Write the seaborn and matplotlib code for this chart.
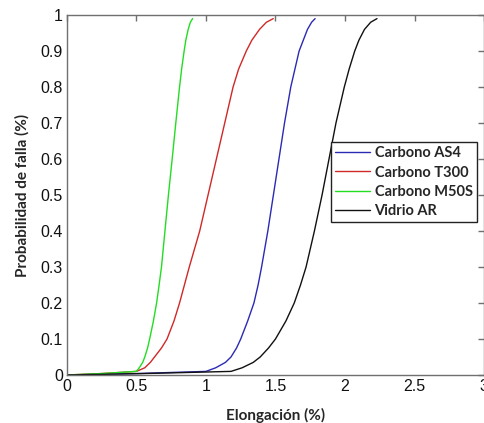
import matplotlib
matplotlib.use("Agg")
import matplotlib.pyplot as plt
import seaborn as sns
import pandas as pd

# Series names
series = ["Carbono AS4", "Carbono T300", "Carbono M50S", "Vidrio AR"]

# Failure probability levels (shared) and elongation values
y_levels = [0.0, 0.004, 0.01, 0.02, 0.035, 0.05, 0.075, 0.1, 0.15, 0.2, 0.25, 0.3,
            0.4, 0.5, 0.6, 0.7, 0.8, 0.85, 0.9, 0.93, 0.96, 0.98, 0.99]

x_as4  = [0.0, 0.50, 1.00, 1.07, 1.14, 1.18, 1.22, 1.25, 1.30, 1.345, 1.375, 1.40,
          1.445, 1.485, 1.525, 1.565, 1.61, 1.64, 1.67, 1.70, 1.73, 1.76, 1.785]
x_t300 = [0.0, 0.25, 0.50, 0.56, 0.60, 0.63, 0.68, 0.72, 0.77, 0.81, 0.845, 0.88,
          0.955, 1.015, 1.075, 1.135, 1.195, 1.235, 1.29, 1.33, 1.385, 1.435, 1.484]
x_m50s = [0.0, 0.25, 0.50, 0.52, 0.545, 0.56, 0.58, 0.595, 0.622, 0.645, 0.663, 0.68,
          0.705, 0.73, 0.757, 0.783, 0.81, 0.825, 0.843, 0.855, 0.872, 0.888, 0.904]
x_ar   = [0.0, 0.55, 1.18, 1.26, 1.34, 1.39, 1.45, 1.50, 1.575, 1.635, 1.68, 1.72,
          1.78, 1.835, 1.885, 1.935, 1.995, 2.03, 2.07, 2.10, 2.14, 2.185, 2.23]

colors = ["#2a2ab4", "#d02828", "#22dd22", "#111111"]

x_ticks = [0, 0.5, 1, 1.5, 2, 2.5, 3]
x_ticklabels = ["0", "0.5", "1", "1.5", "2", "2.5", "3"]
y_ticks = [0, 0.1, 0.2, 0.3, 0.4, 0.5, 0.6, 0.7, 0.8, 0.9, 1]
y_ticklabels = ["0", "0.1", "0.2", "0.3", "0.4", "0.5", "0.6", "0.7", "0.8", "0.9", "1"]

rows = []
for name, xs in zip(series, [x_as4, x_t300, x_m50s, x_ar]):
    for i, (xv, yv) in enumerate(zip(xs, y_levels)):
        rows.append({"serie": name, "x": xv, "y": yv, "ord": i})
df = pd.DataFrame(rows)

sns.set_style("white")
plt.rcParams["font.family"] = ["Liberation Sans", "DejaVu Sans"]

fig = plt.figure(figsize=(4.85, 4.23), dpi=100)
ax = fig.add_axes([0.138, 0.1135, 0.860, 0.851])

sns.lineplot(data=df, x="x", y="y", hue="serie", hue_order=series,
             palette=colors, sort=False, estimator=None, units="serie",
             linewidth=1.0, ax=ax)

ax.set_xlim(0, 3)
ax.set_ylim(0, 1)
ax.set_xticks(x_ticks)
ax.set_xticklabels(x_ticklabels)
ax.set_yticks(y_ticks)
ax.set_yticklabels(y_ticklabels)

for s in ax.spines.values():
    s.set_visible(True)
    s.set_color("#707070")
    s.set_linewidth(1.0)
ax.tick_params(direction="in", length=4, width=1, color="#707070",
               top=True, right=True, labelsize=11.5, labelcolor="#111111", pad=3)

lab_font = dict(family=["Lato", "DejaVu Sans"], weight="bold", size=11)
ax.set_xlabel("Elongación (%)", fontdict=lab_font, labelpad=10)
ax.set_ylabel("Probabilidad de falla (%)", fontdict=lab_font, labelpad=8)

leg = ax.legend(loc="upper right", bbox_to_anchor=(0.983, 0.647),
                prop={"family": ["Lato", "DejaVu Sans"], "weight": "bold", "size": 10.5},
                frameon=True, fancybox=False, framealpha=1, edgecolor="#222222",
                handlelength=2.4, handletextpad=0.3, borderpad=0.3, labelspacing=0.35,
                borderaxespad=0)
leg.get_frame().set_linewidth(1.0)

fig.savefig("out.png", dpi=100)
